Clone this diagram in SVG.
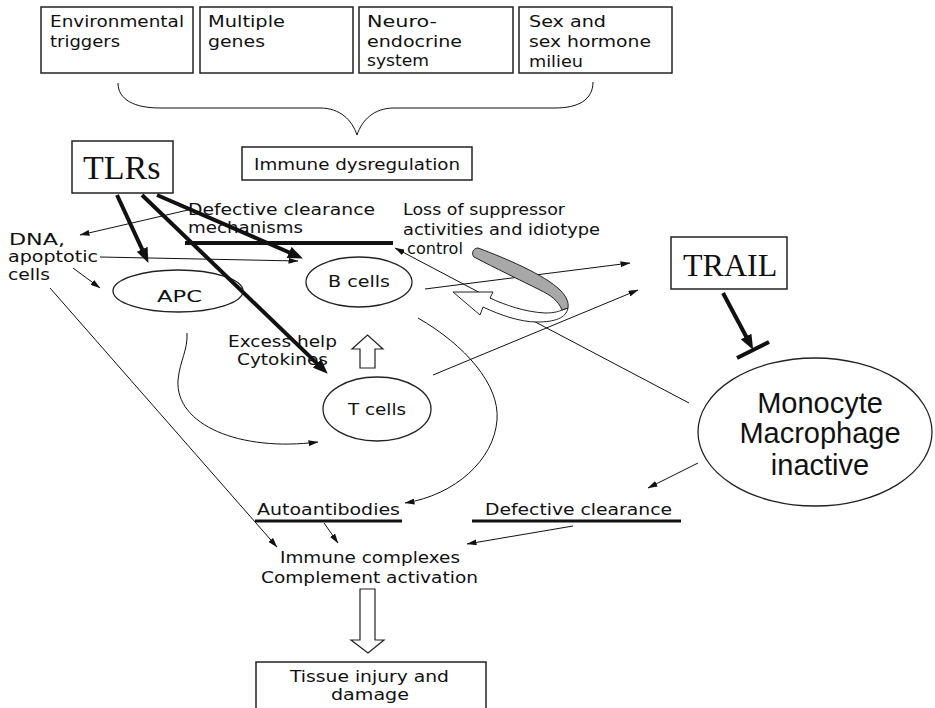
<svg xmlns="http://www.w3.org/2000/svg" width="935" height="708" viewBox="0 0 935 708">
<style>
.t{font-family:"DejaVu Sans","Liberation Sans",sans-serif;font-size:15px;fill:#111}
.s{font-family:"Liberation Serif","Times New Roman",serif;fill:#111}
.m{font-family:"Liberation Sans",Arial,sans-serif;font-size:29px;fill:#111;text-anchor:middle}
.box{fill:#fff;stroke:#222;stroke-width:1.5}
.ell{fill:#fff;stroke:#222;stroke-width:1.3}
.thin{fill:none;stroke:#111;stroke-width:1}
.thick{fill:none;stroke:#111;stroke-width:4}
.bar{stroke:#111;stroke-width:4}
.hol{fill:#fff;stroke:#222;stroke-width:1.2}
</style>
<defs>
<marker id="ah" markerUnits="userSpaceOnUse" markerWidth="10" markerHeight="6" refX="9.5" refY="3" orient="auto"><path d="M0,0 L10,3 L0,6 z" fill="#111"/></marker>
<marker id="ahb" markerUnits="userSpaceOnUse" markerWidth="15" markerHeight="12" refX="4" refY="6" orient="auto"><path d="M0,0 L15,6 L0,12 z" fill="#111"/></marker>
</defs>
<rect width="935" height="708" fill="#fff"/>

<g id="env"><rect class="box" x="41" y="7" width="152" height="66"/>
<text class="t" x="50" y="27" textLength="134" lengthAdjust="spacingAndGlyphs">Environmental</text>
<text class="t" x="50" y="47" textLength="70" lengthAdjust="spacingAndGlyphs">triggers</text></g>
<g id="genes"><rect class="box" x="200" y="7" width="153" height="66"/>
<text class="t" x="208" y="27" textLength="77" lengthAdjust="spacingAndGlyphs">Multiple</text>
<text class="t" x="208" y="47" textLength="57" lengthAdjust="spacingAndGlyphs">genes</text></g>
<g id="neuro"><rect class="box" x="359" y="7" width="154" height="66"/>
<text class="t" x="367" y="27" textLength="70" lengthAdjust="spacingAndGlyphs">Neuro-</text>
<text class="t" x="367" y="47" textLength="95" lengthAdjust="spacingAndGlyphs">endocrine</text>
<text class="t" x="367" y="66" textLength="62" lengthAdjust="spacingAndGlyphs">system</text></g>
<g id="sex"><rect class="box" x="519" y="7" width="153" height="66"/>
<text class="t" x="529" y="27" textLength="77" lengthAdjust="spacingAndGlyphs">Sex and</text>
<text class="t" x="529" y="47" textLength="122" lengthAdjust="spacingAndGlyphs">sex hormone</text>
<text class="t" x="529" y="67" textLength="54" lengthAdjust="spacingAndGlyphs">milieu</text></g>

<g id="brace"><path class="thin" d="M118,83 C118,100 135,108 160,108 L320,108 C340,108 352,120 357,135 C362,120 374,108 394,108 L555,108 C578,108 593,100 593,82"/></g>

<g id="immune"><rect class="box" x="242" y="147" width="230" height="33"/>
<text class="t" x="254" y="170" textLength="206" lengthAdjust="spacingAndGlyphs">Immune dysregulation</text></g>

<g id="tlrs"><rect class="box" x="72" y="141" width="101" height="52"/>
<text class="s" x="83" y="179" font-size="34">TLRs</text></g>

<g id="trail"><rect class="box" x="671" y="237" width="116" height="52"/>
<text class="s" x="683" y="276" font-size="32">TRAIL</text></g>

<g id="monocyte"><ellipse class="ell" cx="815" cy="432" rx="117" ry="74"/>
<text class="m" x="820" y="413">Monocyte</text>
<text class="m" x="820" y="443">Macrophage</text>
<text class="m" x="820" y="475">inactive</text></g>

<g id="apc"><ellipse class="ell" cx="178" cy="291" rx="65" ry="21"/>
<text class="t" x="157" y="302" textLength="45" lengthAdjust="spacingAndGlyphs">APC</text></g>
<g id="bcells"><ellipse class="ell" cx="359" cy="282" rx="53" ry="25"/>
<text class="t" x="328" y="287" textLength="62" lengthAdjust="spacingAndGlyphs">B cells</text></g>
<g id="tcells"><ellipse class="ell" cx="377" cy="409" rx="54" ry="32"/>
<text class="t" x="348" y="415" textLength="58" lengthAdjust="spacingAndGlyphs">T cells</text></g>

<g id="dna"><text class="t" x="9" y="245" textLength="56" lengthAdjust="spacingAndGlyphs">DNA,</text>
<text class="t" x="8" y="262" textLength="90" lengthAdjust="spacingAndGlyphs">apoptotic</text>
<text class="t" x="8" y="280" textLength="42" lengthAdjust="spacingAndGlyphs">cells</text></g>

<g id="defclear1"><text class="t" x="188" y="215" textLength="187" lengthAdjust="spacingAndGlyphs">Defective clearance</text>
<text class="t" x="188" y="233" textLength="115" lengthAdjust="spacingAndGlyphs">mechanisms</text>
<line class="bar" x1="185" y1="243" x2="393" y2="243"/></g>

<g id="loss"><text class="t" x="403" y="215" textLength="162" lengthAdjust="spacingAndGlyphs">Loss of suppressor</text>
<text class="t" x="403" y="235" textLength="197" lengthAdjust="spacingAndGlyphs">activities and idiotype</text>
<text class="t" x="407" y="254" textLength="56" lengthAdjust="spacingAndGlyphs">control</text></g>

<g id="help"><text class="t" x="228" y="347" textLength="109" lengthAdjust="spacingAndGlyphs">Excess help</text>
<text class="t" x="237" y="365" textLength="91" lengthAdjust="spacingAndGlyphs">Cytokines</text></g>

<g id="autoab"><text class="t" x="257" y="515" textLength="143" lengthAdjust="spacingAndGlyphs">Autoantibodies</text>
<line x1="255" y1="521" x2="402" y2="521" stroke="#111" stroke-width="3"/></g>

<g id="defclear2"><text class="t" x="485" y="515" textLength="187" lengthAdjust="spacingAndGlyphs">Defective clearance</text>
<line x1="472" y1="521" x2="681" y2="521" stroke="#111" stroke-width="3"/></g>

<g id="complexes"><text class="t" x="280" y="563" textLength="180" lengthAdjust="spacingAndGlyphs">Immune complexes</text>
<text class="t" x="261" y="583" textLength="217" lengthAdjust="spacingAndGlyphs">Complement activation</text></g>

<g id="tissue"><rect class="box" x="256" y="662" width="230" height="60"/>
<text class="t" x="290" y="682" textLength="159" lengthAdjust="spacingAndGlyphs">Tissue injury and</text>
<text class="t" x="331" y="700" textLength="78" lengthAdjust="spacingAndGlyphs">damage</text></g>

<g id="connectors">
<line class="thick" x1="117" y1="195" x2="143.8" y2="252.9" marker-end="url(#ahb)"/>
<line class="thick" x1="142" y1="195" x2="319.8" y2="366.1" marker-end="url(#ahb)"/>
<line class="thick" x1="157" y1="195" x2="292.8" y2="254" marker-end="url(#ahb)"/>
<line class="thick" x1="723" y1="293" x2="748" y2="340" marker-end="url(#ahb)"/>
<line class="bar" x1="737" y1="358" x2="769" y2="342"/>

<line class="thin" x1="188" y1="210" x2="80" y2="235" marker-end="url(#ah)"/>
<line class="thin" x1="100" y1="257" x2="298" y2="261" marker-end="url(#ah)"/>
<line class="thin" x1="73" y1="268" x2="100" y2="288" marker-end="url(#ah)"/>
<line class="thin" x1="50" y1="288" x2="277" y2="547" marker-end="url(#ah)"/>
<path class="thin" d="M187,333 C188,350 180,360 178,380 C175,425 240,452 318,442" marker-end="url(#ah)"/>
<path class="thin" d="M418,318 C465,345 500,385 497,420 C494,460 455,495 405,503" marker-end="url(#ah)"/>
<line class="thin" x1="425" y1="289" x2="630" y2="263" marker-end="url(#ah)"/>
<line class="thin" x1="433" y1="375" x2="638" y2="290" marker-end="url(#ah)"/>
<line class="thin" x1="689" y1="403" x2="395" y2="248" marker-end="url(#ah)"/>
<line class="thin" x1="698" y1="463" x2="648" y2="488" marker-end="url(#ah)"/>
<line class="thin" x1="573" y1="526" x2="467" y2="544" marker-end="url(#ah)"/>
<line class="thin" x1="324" y1="523" x2="338" y2="543" marker-end="url(#ah)"/>

<polygon class="hol" points="360,368 375,368 375,349 383,349 367.5,335 352,349 360,349"/>
<polygon class="hol" points="360,589 375,589 375,640 384,640 368,653 351,640 360,640"/>

<path d="M568,308 C566,318 555,322 537,322 C520,322 500,315 483,307 L480,315 L453,292 L493,292 L490,298 C505,305 525,312 545,313 C555,313 560,311 562,310 Z" fill="#fff" stroke="#222" stroke-width="1"/>
<path d="M478,248 C505,258 545,275 560,290 C566,296 569,302 568,308 L562,310 C558,300 550,295 540,290 C520,280 495,268 474,257 C471,254 473,248 478,248 Z" fill="#a8a8a8" stroke="#222" stroke-width="1"/>
</g>
</svg>
